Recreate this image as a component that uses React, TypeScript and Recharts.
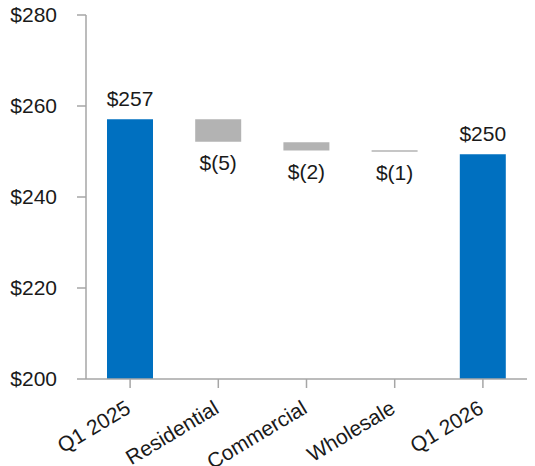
import { BarChart, Bar, XAxis, YAxis, Cell, LabelList } from "recharts";

const categories = ["Q1 2025", "Residential", "Commercial", "Wholesale", "Q1 2026"];
// floating bar bounds (low, high)
const lows = [200, 252.15, 250.2, 249.95, 200];
const highs = [257.1, 257.1, 252.05, 250.3, 249.4];
const valueLabels = ["$257", "$(5)", "$(2)", "$(1)", "$250"];
const isTotal = [true, false, false, false, true];
const yTicks = [200, 220, 240, 260, 280];

const BLUE = "#0070C0";
const GREY = "#B3B3B3";
const AXIS = "#A6A6A6";
const TEXT = "#1a1a1a";
const FONT_SIZE = 21;

const data = categories.map((name, i) => ({ name, range: [lows[i], highs[i]] }));

const AngledTick = ({ x, y, payload }: any) => (
  <g transform={`translate(${x + 2},${y + 22}) rotate(-31)`}>
    <text x={0} y={0} textAnchor="end" fontSize={FONT_SIZE} fill={TEXT}>
      {payload.value}
    </text>
  </g>
);

const renderValueLabel = (props: any) => {
  const { x, y, width, height, index } = props;
  const top = Math.min(y, y + height);
  const bottom = Math.max(y, y + height);
  const ty = isTotal[index] ? top - 13 : bottom + 28;
  return (
    <text x={x + width / 2} y={ty} textAnchor="middle" fontSize={FONT_SIZE} fill={TEXT}>
      {valueLabels[index]}
    </text>
  );
};

export default function App() {
  return (
    <div style={{ position: "absolute", left: 0, top: 0 }}>
      <BarChart
        width={535}
        height={466}
        data={data}
        margin={{ top: 15, right: 8, left: 0, bottom: 0 }}
        style={{ fontFamily: "'Liberation Sans', Arial, sans-serif" }}
      >
        <XAxis
          dataKey="name"
          height={87}
          interval={0}
          tickSize={9}
          tickMargin={2}
          axisLine={{ stroke: AXIS, strokeWidth: 1.5 }}
          tickLine={{ stroke: AXIS, strokeWidth: 1.5 }}
          tick={<AngledTick />}
        />
        <YAxis
          domain={[200, 280]}
          ticks={yTicks}
          allowDataOverflow
          width={86}
          tickSize={9}
          tickMargin={20}
          tickFormatter={(v) => `$${v}`}
          axisLine={{ stroke: AXIS, strokeWidth: 1.5 }}
          tickLine={{ stroke: AXIS, strokeWidth: 1.5 }}
          tick={{ fontSize: FONT_SIZE, fill: TEXT }}
        />
        <Bar dataKey="range" barSize={46} isAnimationActive={false}>
          {data.map((entry, index) => (
            <Cell key={`cell-${index}`} fill={isTotal[index] ? BLUE : GREY} />
          ))}
          <LabelList dataKey="range" content={renderValueLabel} />
        </Bar>
      </BarChart>
    </div>
  );
}
